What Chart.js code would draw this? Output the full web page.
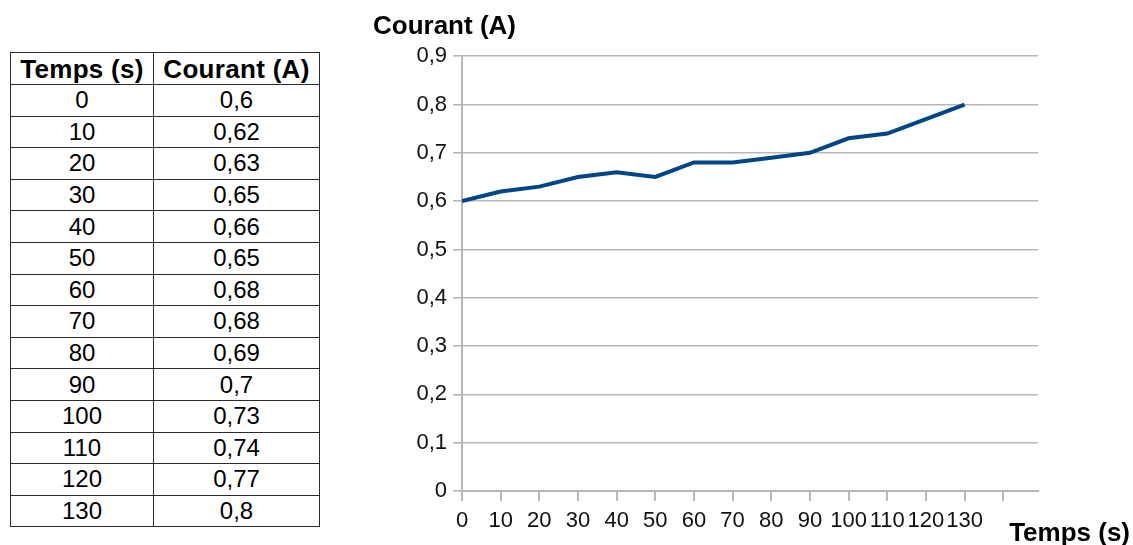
<!DOCTYPE html>
<html>
<head>
<meta charset="utf-8">
<script src="https://cdn.jsdelivr.net/npm/chart.js@4/dist/chart.umd.min.js"></script>
<style>
  body { margin: 0; background: #fff; width: 1133px; height: 545px; overflow: hidden; position: relative; font-family: "Liberation Sans", Arial, sans-serif; }
  #table-data { position: absolute; left: 10px; top: 52px; border-collapse: collapse; color: #000; }
  #table-data th, #table-data td { border: 1.5px solid #2b2b2b; padding: 0; text-align: center; line-height: 1; }
  #table-data th { font-size: 26px; font-weight: bold; height: 31px; letter-spacing: 0.3px; }
  #table-data td { font-size: 24px; height: 30.6px; }
  #table-data .c1 { width: 142px; }
  #table-data .c2 { width: 165px; }
  #chart-wrap { position: absolute; left: 370px; top: 0; width: 763px; height: 545px; }
</style>
</head>
<body>
<table id="table-data">
  <thead><tr><th class="c1">Temps (s)</th><th class="c2">Courant (A)</th></tr></thead>
  <tbody></tbody>
</table>
<div id="chart-wrap"><canvas id="chart-line"></canvas></div>
<script>
const times = [0, 10, 20, 30, 40, 50, 60, 70, 80, 90, 100, 110, 120, 130];
const courant = [0.6, 0.62, 0.63, 0.65, 0.66, 0.65, 0.68, 0.68, 0.69, 0.7, 0.73, 0.74, 0.77, 0.8];
const xTicks = [0, 10, 20, 30, 40, 50, 60, 70, 80, 90, 100, 110, 120, 130, 140];
const yTicks = [0, 0.1, 0.2, 0.3, 0.4, 0.5, 0.6, 0.7, 0.8, 0.9];

function fr(v) {
  return String(+v.toFixed(2)).replace('.', ',');
}

// table rows from the same arrays
const tbody = document.querySelector("#table-data tbody");
for (let i = 0; i < times.length; i++) {
  const tr = document.createElement("tr");
  tr.innerHTML = '<td class="c1">' + times[i] + '</td><td class="c2">' + fr(courant[i]) + '</td>';
  tbody.appendChild(tr);
}

// draws the x axis title right of the axis end
const xTitlePlugin = {
  id: "xTitle",
  afterDraw(chart) {
    const c = chart.ctx;
    const area = chart.chartArea;
    c.save();
    c.font = "bold 26px 'Liberation Sans', Arial, sans-serif";
    c.fillStyle = "#000";
    c.textAlign = "right";
    c.textBaseline = "middle";
    c.fillText("Temps (s)", chart.width - 3, area.bottom + 43);
    c.restore();
  }
};

const gridGrey = "#b8b8b8";
const ctx = document.getElementById("chart-line").getContext("2d");
const lineChart = new Chart(ctx, {
  type: "line",
  data: {
    datasets: [{
      label: "Courant (A)",
      data: times.map((t, i) => ({ x: t, y: courant[i] })),
      borderColor: "#004586",
      borderWidth: 4,
      pointRadius: 0,
      tension: 0,
      fill: false,
    }],
  },
  options: {
    responsive: true,
    maintainAspectRatio: false,
    animation: false,
    layout: { padding: { left: 3, right: 95, top: 0, bottom: 0 } },
    plugins: {
      legend: { display: false },
      tooltip: { enabled: false },
      title: {
        display: true,
        text: "Courant (A)",
        align: "start",
        color: "#000",
        font: { family: "'Liberation Sans', Arial, sans-serif", size: 26, weight: "bold" },
        padding: { top: 11, bottom: 14 },
      },
    },
    scales: {
      x: {
        type: "linear",
        min: 0,
        max: 149,
        afterBuildTicks: (scale) => { scale.ticks = xTicks.map(v => ({ value: v })); },
        afterFit: (scale) => { scale.height = 54; },
        border: { color: gridGrey, width: 2 },
        grid: { drawOnChartArea: false, drawTicks: true, tickLength: 10, color: gridGrey, lineWidth: 2 },
        ticks: {
          autoSkip: false,
          maxRotation: 0,
          padding: 7,
          color: "#111",
          font: { family: "'Liberation Sans', Arial, sans-serif", size: 22 },
          callback: (v) => times.includes(v) ? String(v) : "",
        },
      },
      y: {
        min: 0,
        max: 0.9,
        afterBuildTicks: (scale) => { scale.ticks = yTicks.map(v => ({ value: v })); },
        afterFit: (scale) => { scale.width = 89; },
        border: { color: gridGrey, width: 2 },
        grid: { drawTicks: true, tickLength: 9, color: gridGrey, lineWidth: 1.6 },
        ticks: {
          padding: 6,
          color: "#111",
          font: { family: "'Liberation Sans', Arial, sans-serif", size: 22 },
          callback: (v) => fr(v),
        },
      },
    },
  },
  plugins: [xTitlePlugin],
});
</script>
</body>
</html>
